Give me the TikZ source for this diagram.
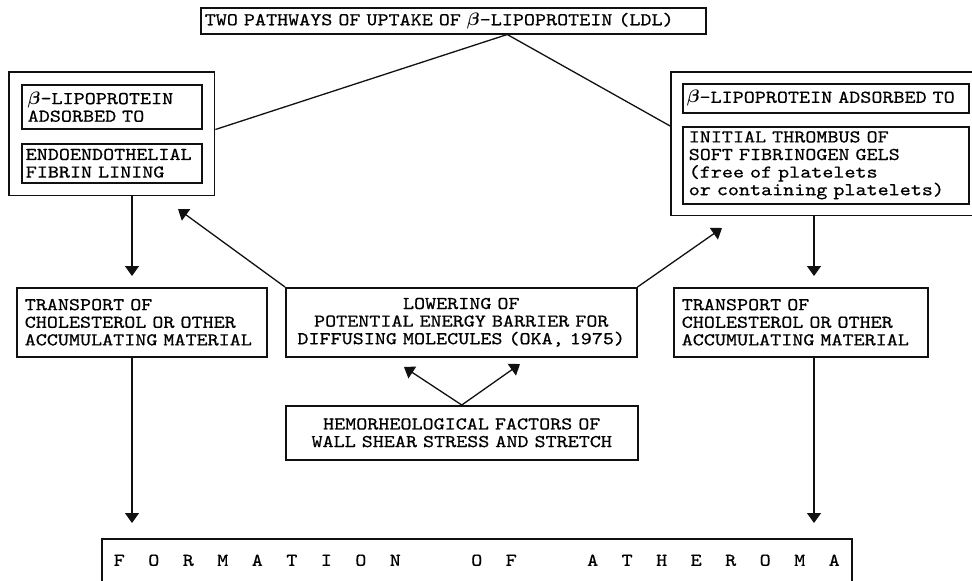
\documentclass[tikz,border=0pt]{standalone}
\usepackage{amsmath,amssymb}
\usepackage{fontspec}
\setmonofont{lmmono10-regular.otf}[FakeStretch=1.17, FakeBold=0.6]
\usepackage{tikz}
\usetikzlibrary{
  arrows.meta,
  positioning,
  fit,
  calc,
}
\definecolor{ink}{HTML}{111111}
\newcommand{\bodyfont}{\ttfamily\fontsize{9}{8.8}\selectfont}
\newcommand{\bb}{$\boldsymbol{\beta}$}
\tikzset{
  typebox/.style={
    rectangle, draw=ink, line width=0.75pt, inner xsep=3pt, inner ysep=2pt,
    anchor=north west, align=left, font=\bodyfont,
  },
  frame/.style={
    rectangle, draw=ink, line width=0.85pt,
  },
  arrowHead/.style={
    -{Triangle[length=5pt,width=7pt]}, line width=0.65pt, draw=ink,
  },
  plainLine/.style={
    line width=0.65pt, draw=ink,
  },
}

\begin{document}
\begin{tikzpicture}[x=0.5pt, y=-0.5pt]

% Canvas
\path[fill=white, use as bounding box] (0,0) rectangle (972,580);

% Title
\node[typebox, inner xsep=2pt, text width=248.5pt, minimum height=13pt] (title) at (200,7)
  {TWO PATHWAYS OF UPTAKE OF \bb-LIPOPROTEIN (LDL)};

% Left pathway: fibrin lining
\node[typebox, text width=84pt, minimum height=22pt] (lipoL) at (21,84)
  {\bb-LIPOPROTEIN\\ADSORBED TO};
\node[typebox, inner xsep=2pt, text width=86pt, minimum height=19.5pt] (fibrin) at (21,143)
  {ENDOENDOTHELIAL\\FIBRIN LINING};
\node[frame, fit=(lipoL)(fibrin), inner sep=6pt] (lout) {};

% Right pathway: thrombus
\node[typebox, inner xsep=2pt, text width=139pt, minimum height=14.5pt] (lipoR) at (682,83)
  {\bb-LIPOPROTEIN ADSORBED TO};
\node[typebox, text width=137pt, minimum height=38.5pt] (thromb) at (682,126)
  {INITIAL THROMBUS OF\\SOFT FIBRINOGEN GELS\\(free of platelets\\or containing platelets)};
\node[frame, fit=(lipoR)(thromb), inner sep=5.5pt] (rout) {};

% Middle row
\node[typebox, inner xsep=4pt, text width=117pt, minimum height=34.5pt] (ltrans) at (16,287)
  {TRANSPORT OF\\CHOLESTEROL OR OTHER\\ACCUMULATING MATERIAL};
\node[typebox, align=center, text width=169.5pt, minimum height=34.5pt] (low) at (285,287)
  {LOWERING OF\\POTENTIAL ENERGY BARRIER FOR\\DIFFUSING MOLECULES (OKA, 1975)};
\node[typebox, inner xsep=4pt, text width=119pt, minimum height=34.5pt] (rtrans) at (673,287)
  {TRANSPORT OF\\CHOLESTEROL OR OTHER\\ACCUMULATING MATERIAL};

% Shear stress
\node[typebox, align=center, text width=170pt, minimum height=27pt] (hem) at (285,405)
  {HEMORHEOLOGICAL FACTORS OF\\WALL SHEAR STRESS AND STRETCH};

% Result (runs off the page)
\node[typebox, inner xsep=6pt, inner ysep=5pt, text height=8.5pt, text depth=20pt] (athero) at (101,538)
  {\makebox[363pt]{F\hfill O\hfill R\hfill M\hfill A\hfill T\hfill I\hfill O\hfill N\hfill\hfill\hfill
   O\hfill F\hfill\hfill\hfill A\hfill T\hfill H\hfill E\hfill R\hfill O\hfill M\hfill A}};

% Columns and free arrow ends
\coordinate (colL) at (132,0);
\coordinate (colR) at (814,0);
\coordinate (tipL) at (178,209);
\coordinate (tipR) at (722,228);
\coordinate (tipHL) at (404,367);
\coordinate (tipHR) at (520,364);

% Title to both pathways
\draw[plainLine] (lipoL.south -| lout.east) -- ([xshift=27pt]title.south) -- (thromb.north -| rout.west);

% Down the columns
\draw[arrowHead, shorten >=5.5pt] (lout.south -| colL) -- (ltrans.north -| colL);
\draw[arrowHead, shorten >=7.5pt] (ltrans.south -| colL) -- (athero.north -| colL);
\draw[arrowHead, shorten >=5.5pt] (rout.south -| colR) -- (rtrans.north -| colR);
\draw[arrowHead, shorten >=7.5pt] (rtrans.south -| colR) -- (athero.north -| colR);

% Energy barrier feeds both pathways
\draw[arrowHead] (low.north west) -- (tipL);
\draw[arrowHead] (low.north east) -- (tipR);
\draw[arrowHead] (hem.north) -- (tipHL);
\draw[arrowHead] (hem.north) -- (tipHR);

\end{tikzpicture}
\end{document}
